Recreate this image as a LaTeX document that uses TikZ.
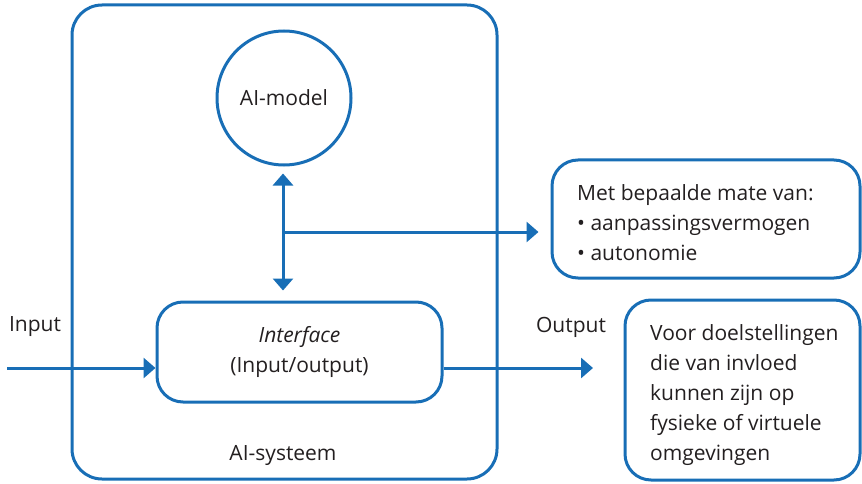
\documentclass[tikz,border=0pt]{standalone}
\usepackage{fontspec}
\setmainfont{Open Sans}
\usetikzlibrary{arrows.meta}

\definecolor{aiblauw}{RGB}{24,110,182}
\definecolor{tekst}{RGB}{35,31,32}

\begin{document}
\begin{tikzpicture}[x=1pt,y=-1pt,
    font=\fontsize{21}{30}\selectfont,
    every node/.style={text=tekst},
    kader/.style={draw=aiblauw,line width=3pt,rectangle,rounded corners=26pt,inner sep=0pt},
    pijl/.style={draw=aiblauw,line width=3pt,-{Triangle[length=12pt,width=20pt]}},
    dubbelpijl/.style={draw=aiblauw,line width=3pt,{Triangle[length=12pt,width=20pt]}-{Triangle[length=12pt,width=20pt]}}]
            \useasboundingbox (0,0) rectangle (862,484);
            \begin{scope}
                \node[kader,rounded corners=30pt,minimum width=425pt,minimum height=474pt] (systeem) at (284.5,242) {};
                \node (systeemlabel) at (283,455) {AI-systeem};

                \node[draw=aiblauw,line width=3pt,circle,minimum size=134pt,inner sep=0pt] (model) at (284,98) {AI-model};

                \node[kader,minimum width=285pt,minimum height=100pt,align=center] (interface) at (299.5,352) {\textit{Interface}\\(Input/output)};

                \node[kader,minimum width=308pt,minimum height=118pt] (mate) at (706,219) {};
                \node[anchor=west,align=left,inner sep=0pt] (matetekst) at (577,223)
                    {Met bepaalde mate van:\\• aanpassingsvermogen\\• autonomie};

                \node[kader,minimum width=235pt,minimum height=180pt] (doelen) at (742.5,390) {};
                \node[anchor=west,align=left,inner sep=0pt] (doeltekst) at (650,395)
                    {Voor doelstellingen\\die van invloed\\kunnen zijn op\\fysieke of virtuele\\omgevingen};

                \node (inputlabel) at (35,327) {Input};
                \node (outputlabel) at (571,327) {Output};

                \coordinate (instart) at (7,368);
                \coordinate (uiteinde) at (593,368);
                \coordinate (splitsing) at (283,232);
            \end{scope}
            \begin{scope}
                \draw [pijl] (instart) -- (instart -| interface.west);
                \draw [pijl] (uiteinde -| interface.east) -- (uiteinde);
                \draw [dubbelpijl,shorten <=7pt,shorten >=10pt] (splitsing |- model.south) -- (splitsing |- interface.north);
                \draw [pijl,shorten >=12pt] (splitsing) -- (splitsing -| mate.west);
            \end{scope}
        \end{tikzpicture}
\end{document}
